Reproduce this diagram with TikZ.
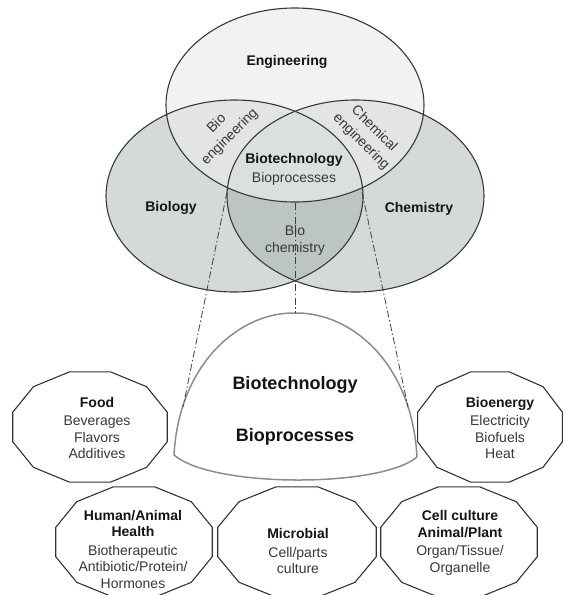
\documentclass[tikz,border=0pt]{standalone}
\usepackage{fontspec}
\setmainfont{Liberation Sans}
\begin{document}
\begin{tikzpicture}[x=1pt,y=-1pt,
  engR/.style={x radius=129, y radius=97},
  vennR/.style={x radius=128.5, y radius=96},
  outl/.style={draw=black!78, line width=1.1pt},
  poly/.style={draw=black!80, line width=1.1pt, fill=white},
  link/.style={draw=black!75, line width=0.8pt, dash pattern=on 7pt off 2.5pt on 1.5pt off 2.5pt},
  hd/.style={font=\fontsize{14}{17}\selectfont\bfseries, text=black!92, inner sep=0pt},
  lbl/.style={font=\fontsize{14}{17}\selectfont, text=black!78, align=center, inner sep=0pt},
  rlbl/.style={font=\fontsize{14}{18.5}\selectfont, text=black!78, align=center, inner sep=0pt},
  big/.style={font=\fontsize{18}{22}\selectfont\bfseries, text=black!92, inner sep=0pt},
  box/.style={align=center, font=\fontsize{14}{16.5}\selectfont, text=black!78, inner sep=0pt}]
\definecolor{bioF}{HTML}{D4DAD8}
\definecolor{bcF}{HTML}{BCC5C2}
\definecolor{engF}{HTML}{F2F2F2}
\definecolor{pairF}{HTML}{E2E5E4}
\definecolor{triF}{HTML}{DBDFDD}
\useasboundingbox (0,0) rectangle (566,595);
\newcommand\dodec[3]{\draw[poly, shift={(#1)}] plot[samples at={15,45,...,345}, variable=\ang] (\ang:#2 and #3) -- cycle;}

% Venn centres
\coordinate (engC) at (295,105);
\coordinate (bioC) at (234.5,196);
\coordinate (chemC) at (355.5,196);

% fills
\fill[bioF] (bioC) ellipse[vennR];
\fill[bioF] (chemC) ellipse[vennR];
\begin{scope}
  \clip (bioC) ellipse[vennR];
  \fill[bcF] (chemC) ellipse[vennR];
\end{scope}
\fill[engF] (engC) ellipse[engR];
\begin{scope}
  \clip (engC) ellipse[engR];
  \fill[pairF] (bioC) ellipse[vennR];
  \fill[pairF] (chemC) ellipse[vennR];
  \clip (bioC) ellipse[vennR];
  \fill[triF] (chemC) ellipse[vennR];
\end{scope}

% dome
\coordinate (domeL) at (174,455);
\coordinate (domeR) at (417,457);
\coordinate (apex) at (295,313);
\draw[draw=black!45, line width=1.5pt, fill=white, line join=round]
  (domeL) .. controls (179,363) and (240,312) .. (apex)
  .. controls (351,312) and (412,363) .. (domeR)
  .. controls (380,488) and (212,488) .. (domeL) -- cycle;
\node[big] (dome1) at (295,385) {Biotechnology};
\node[big] (dome2) at (295,437) {Bioprocesses};

% dash-dot connectors
\coordinate (chemLeft) at (227,192);
\coordinate (bioRight) at (362,192);
\coordinate (engBot) at (295,203);
\coordinate (domeLs) at (183,407);
\coordinate (domeRs) at (408,407);
\draw[link] (chemLeft) -- (domeLs);
\draw[link] (bioRight) -- (domeRs);
\draw[link] (engBot) -- (apex);

% outlines
\draw[outl] (engC) ellipse[engR];
\draw[outl] (bioC) ellipse[vennR];
\draw[outl] (chemC) ellipse[vennR];

% Venn labels
\node[hd] (eng) at (287,62) {Engineering};
\node[hd] (bio) at (171,208) {Biology};
\node[hd] (chem) at (419,209) {Chemistry};
\node[hd] (btech) at (294,160) {Biotechnology};
\node[lbl] (bproc) at (294,179) {Bioprocesses};
\node[lbl] (bchem) at (295,240) {Bio\\chemistry};
\node[rlbl, rotate=45] (beng) at (223.5,130.5) {Bio\\engineering};
\node[rlbl, rotate=-45] (ceng) at (367.5,135.5) {Chemical\\engineering};

% application polygons
\coordinate (foodC) at (90,427);
\coordinate (enerC) at (490,427);
\coordinate (humC) at (134,542);
\coordinate (micC) at (297,542);
\coordinate (cellC) at (459,542);
\dodec{foodC}{80}{57}
\dodec{enerC}{75}{57}
\dodec{humC}{81}{57}
\dodec{micC}{82}{57}
\dodec{cellC}{81}{57}

\node[box] (food) at (97,428) {\textbf{\color{black!92}Food}\\[2pt]Beverages\\Flavors\\Additives};
\node[box] (ener) at (500,428) {\textbf{\color{black!92}Bioenergy}\\[2pt]Electricity\\Biofuels\\Heat};
\node[box] (hum) at (133,549) {\textbf{\color{black!92}Human/Animal}\\\textbf{\color{black!92}Health}\\[2pt]Biotherapeutic\\Antibiotic/Protein/\\Hormones};
\node[box] (mic) at (298,551) {\textbf{\color{black!92}Microbial}\\[2pt]Cell/parts\\culture};
\node[box] (cell) at (460,543) {\textbf{\color{black!92}Cell culture}\\\textbf{\color{black!92}Animal/Plant}\\[2pt]Organ/Tissue/\\Organelle};
\end{tikzpicture}
\end{document}
